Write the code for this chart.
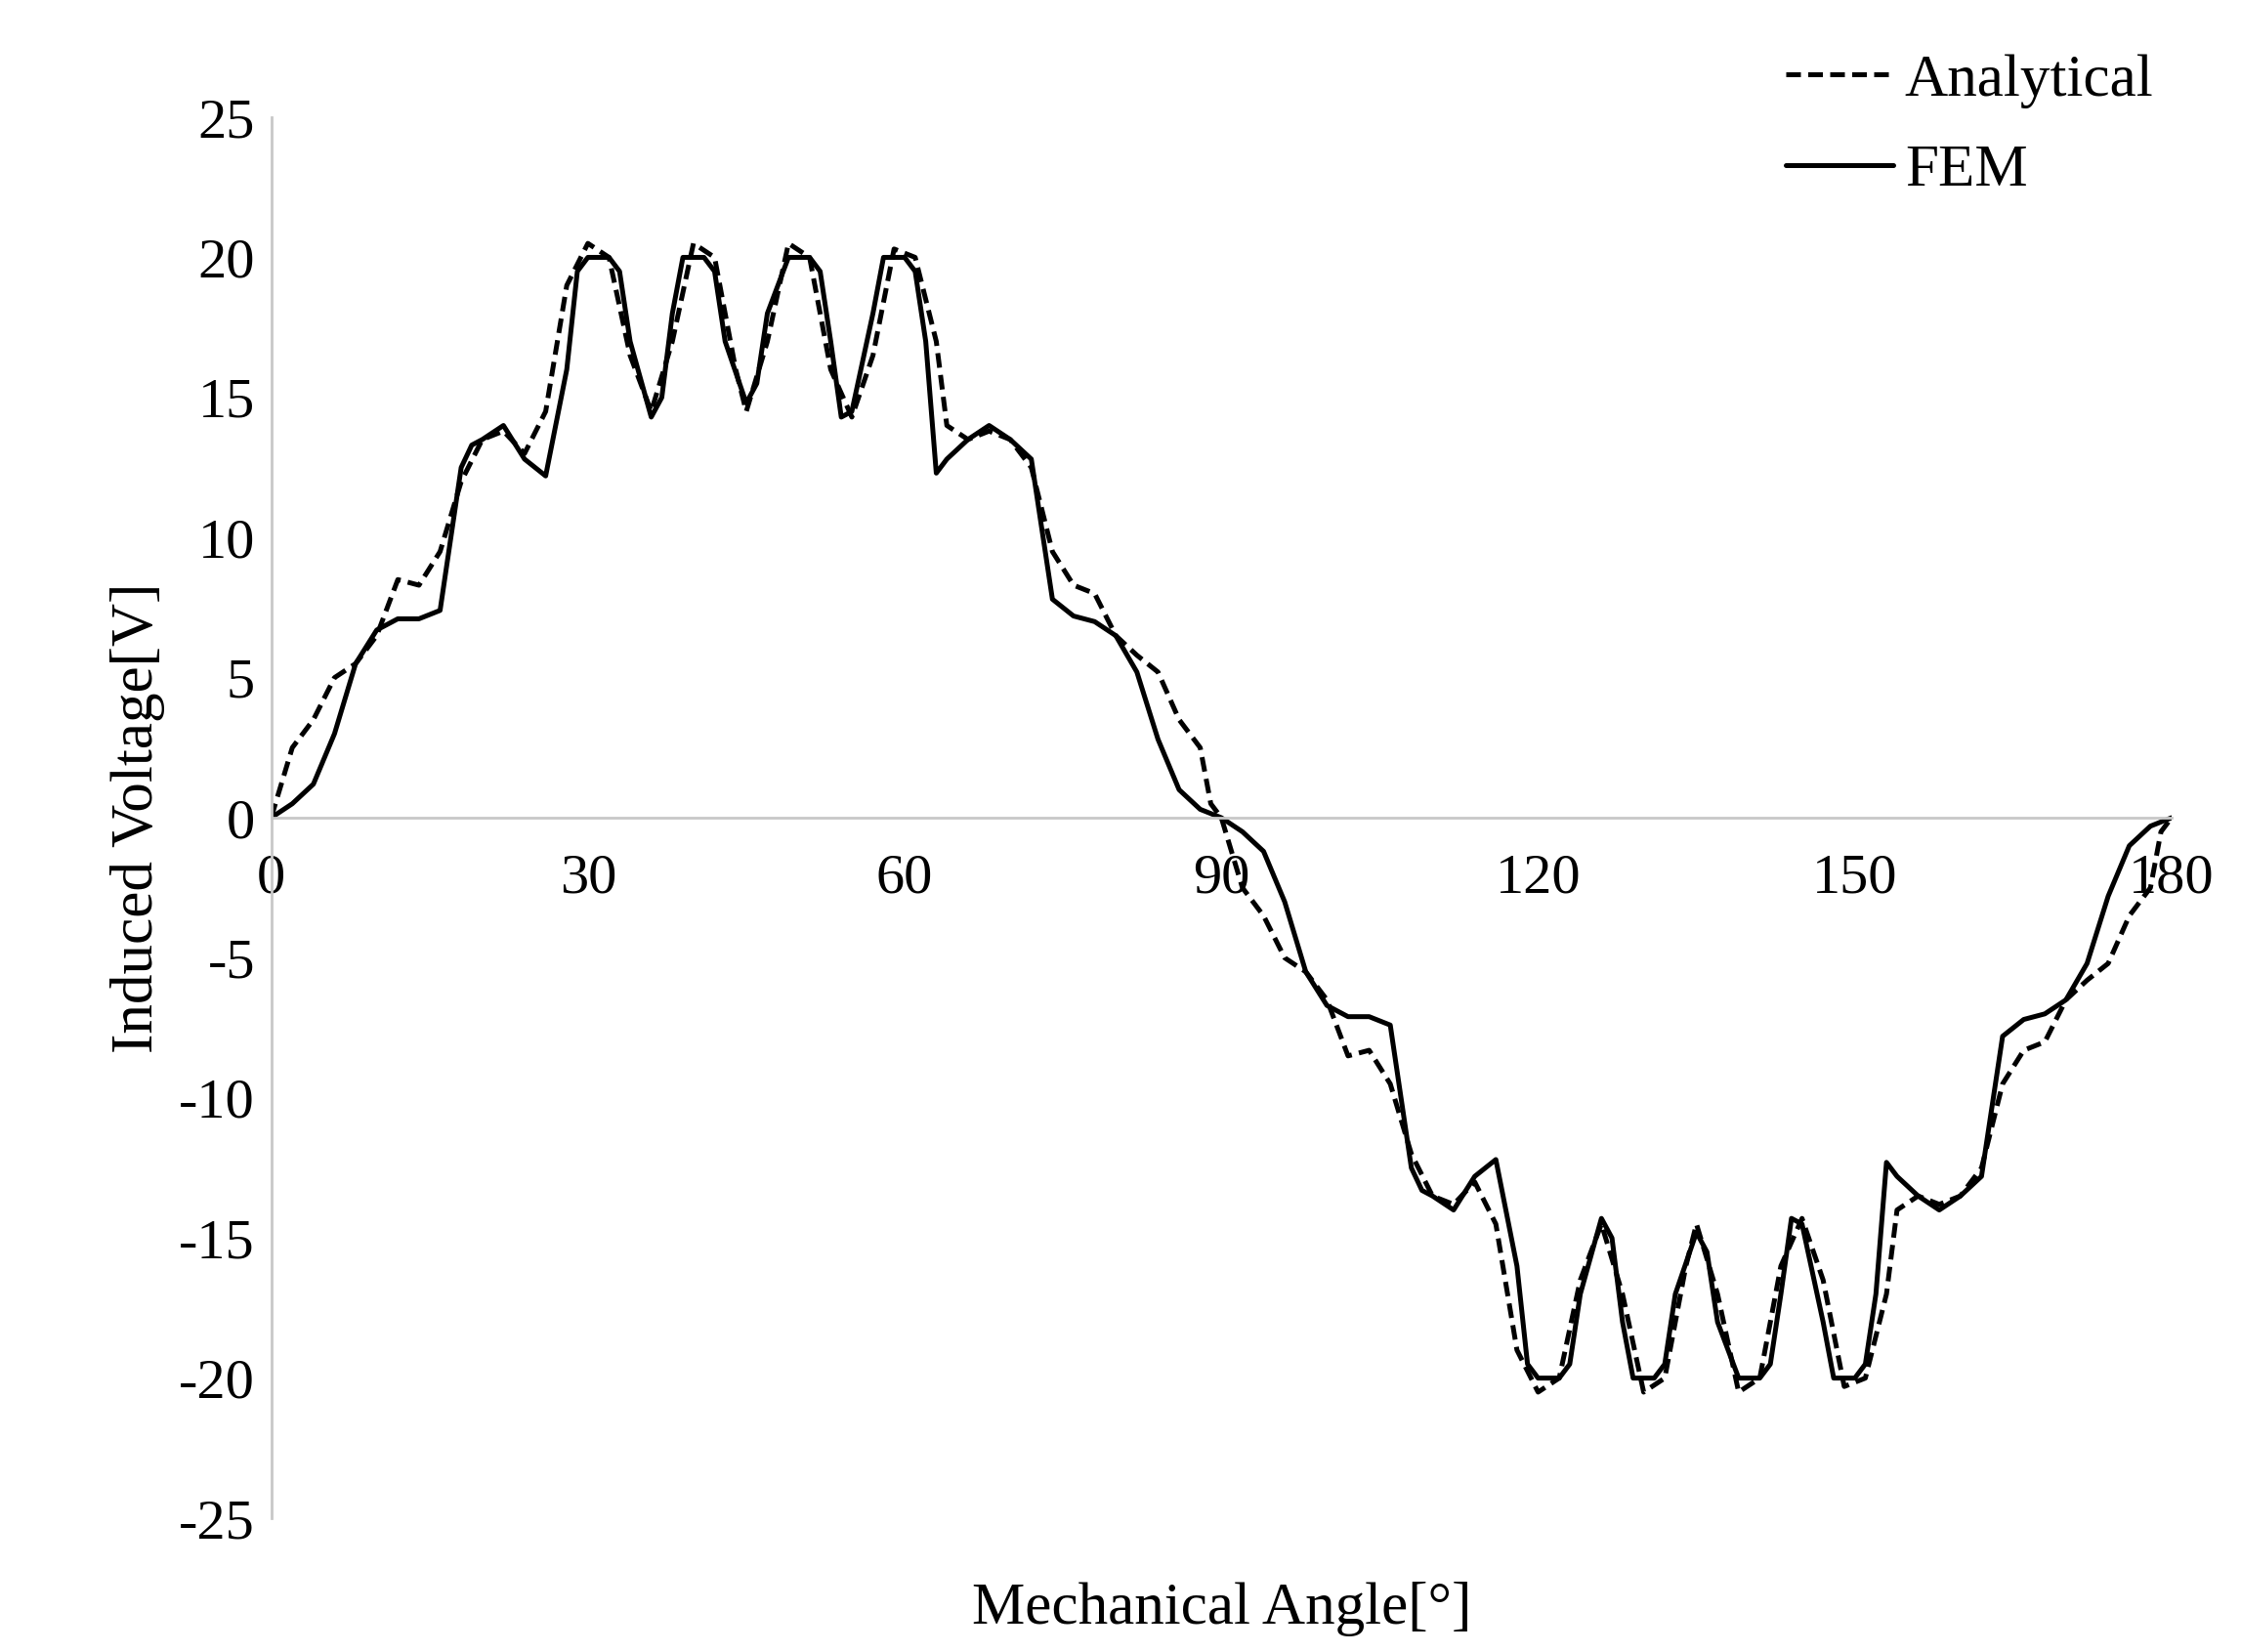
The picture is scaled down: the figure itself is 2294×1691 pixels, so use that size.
import numpy as np, pandas as pd, seaborn as sns, matplotlib
matplotlib.use("Agg")
import matplotlib.pyplot as plt

fem_x = [0,2,4,6,8,10,12,14,16,18,19,20,22,24,26,28,29,30,32,33,34,36,37,38,39,41,42,43,45,46,47,49,51,52,53,54,55,57,58,60,61,62,63,64,66,68,70,72,74,76,78,80,82,84,86,88,90,
         92,94,96,98,100,102,104,106,108,109,110,112,114,116,118,119,120,122,123,124,126,127,128,129,131,132,133,135,136,137,139,141,142,143,144,145,147,148,150,151,152,153,154,156,158,160,162,164,166,168,170,172,174,176,178,180]
fem_y = [0,0.5,1.2,3,5.5,6.7,7.1,7.1,7.4,12.5,13.3,13.5,14,12.8,12.2,16,19.5,20,20,19.5,17,14.3,15,18,20,20,19.5,17,14.8,15.5,18,20,20,19.5,17,14.3,14.5,18,20,20,19.5,17,12.3,12.8,13.5,14,13.5,12.8,7.8,7.2,7,6.5,5.2,2.8,1,0.3,0,
         -0.5,-1.2,-3,-5.5,-6.7,-7.1,-7.1,-7.4,-12.5,-13.3,-13.5,-14,-12.8,-12.2,-16,-19.5,-20,-20,-19.5,-17,-14.3,-15,-18,-20,-20,-19.5,-17,-14.8,-15.5,-18,-20,-20,-19.5,-17,-14.3,-14.5,-18,-20,-20,-19.5,-17,-12.3,-12.8,-13.5,-14,-13.5,-12.8,-7.8,-7.2,-7,-6.5,-5.2,-2.8,-1,-0.3,0]
ana_x = [0,2,4,6,8,10,12,14,16,18,20,22,24,26,28,30,32,34,36,38,40,42,44,45,47,49,51,53,55,57,59,61,63,64,66,68,70,72,74,76,78,80,82,84,86,88,89,90,
         92,94,96,98,100,102,104,106,108,110,112,114,116,118,120,122,124,126,128,130,132,134,135,137,139,141,143,145,147,149,151,153,154,156,158,160,162,164,166,168,170,172,174,176,178,179,180]
ana_y = [0,2.5,3.5,5,5.5,6.5,8.5,8.3,9.5,12,13.5,13.8,13,14.5,19,20.5,20,16.5,14.5,17,20.5,20,16,14.5,17,20.5,20,16,14.3,16.5,20.3,20,17,14,13.5,13.8,13.5,12.5,9.5,8.3,8,6.5,5.8,5.2,3.5,2.5,0.5,0,
         -2.5,-3.5,-5,-5.5,-6.5,-8.5,-8.3,-9.5,-12,-13.5,-13.8,-13,-14.5,-19,-20.5,-20,-16.5,-14.5,-17,-20.5,-20,-16,-14.5,-17,-20.5,-20,-16,-14.3,-16.5,-20.3,-20,-17,-14,-13.5,-13.8,-13.5,-12.5,-9.5,-8.3,-8,-6.5,-5.8,-5.2,-3.5,-2.5,-0.5,0]

df = pd.concat([pd.DataFrame({"angle": ana_x, "v": ana_y, "s": "Analytical"}),
                pd.DataFrame({"angle": fem_x, "v": fem_y, "s": "FEM"})])

sns.set_style("white")
plt.rcParams['font.family'] = ['Liberation Serif', 'DejaVu Serif']
plt.rcParams['axes.unicode_minus'] = False
plt.rcParams['text.color'] = 'black'
plt.rcParams['axes.labelcolor'] = 'black'
plt.rcParams['xtick.color'] = 'black'
plt.rcParams['ytick.color'] = 'black'
fig = plt.figure(figsize=(22.94, 16.91), dpi=100)
ax = fig.add_axes([0.121, 0.081, 0.848, 0.848])
sns.lineplot(data=df, x="angle", y="v", style="s", color="black", linewidth=3.6,
             dashes={"Analytical": (3, 1.5), "FEM": ""}, ax=ax, legend=False, sort=False, estimator=None)
ax.set_xlim(0, 180); ax.set_ylim(-25, 25)
ax.set_xticks([0,30,60,90,120,150,180]); ax.set_yticks(range(-25,26,5))
ax.tick_params(labelsize=42, length=0, pad=12)
ax.tick_params(axis="x", pad=26)
for s in ["top","right"]: ax.spines[s].set_visible(False)
ax.spines["bottom"].set_position(("data", 0))
for s in ["left","bottom"]:
    ax.spines[s].set_color("#c8c8c8"); ax.spines[s].set_linewidth(2)
ax.set_xlabel("Mechanical Angle[°]", fontsize=44, labelpad=0)
ax.xaxis.set_label_coords(0.5, -0.045)
ax.set_ylabel("Induced Voltage[V]", fontsize=44, labelpad=10)
from matplotlib.lines import Line2D
h = [Line2D([], [], color="black", lw=3.6, ls=(0, (3, 1.5))), Line2D([], [], color="black", lw=3.6)]
fig.legend(h, ["Analytical", "FEM"], loc="upper right", bbox_to_anchor=(0.985, 1.0), frameon=False,
           fontsize=44, handlelength=1.8, handletextpad=0.2, labelspacing=0.6)
fig.savefig("out.png", dpi=100, facecolor="white")
